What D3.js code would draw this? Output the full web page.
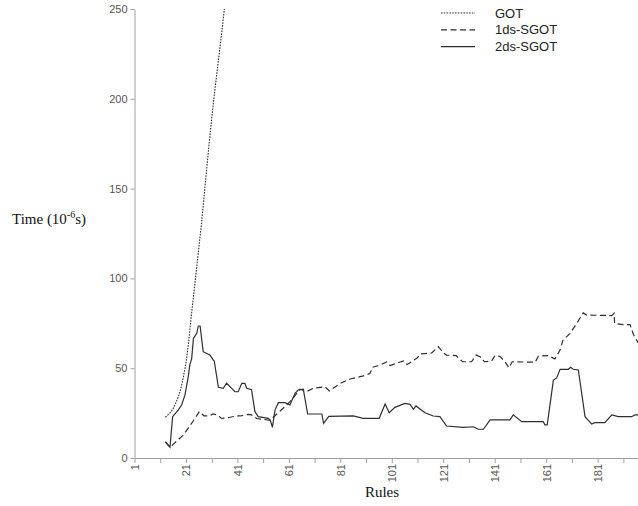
<!DOCTYPE html>
<html>
<head>
<meta charset="utf-8">
<script src="https://cdn.jsdelivr.net/npm/d3@7"></script>
<style>
  body { margin: 0; background: #fff; }
  svg { display: block; }
</style>
</head>
<body>
<script>
const width = 638;
const height = 506;

// Series data (rule number, time in 10^-6 s)
const gotRules = [13, 14, 15, 16, 17, 18, 19, 20, 21, 22, 23, 24, 25, 26, 27, 28, 29, 30, 31, 32, 33, 34, 35, 36];
const gotTimes = [22.7, 24, 25.5, 27.5, 30.5, 34, 38.5, 45, 53, 64, 78, 91, 104, 117, 130, 145, 160, 175, 189, 202, 214, 226, 238, 251];

const oneRules = [13, 14.8, 20, 24, 26.2, 28, 30, 31.5, 33, 34.9, 38.1, 40.7, 42, 45.2, 46.5, 48.5, 53.7, 56.3, 59.5, 61.4, 63, 65.3, 67.9, 70.5, 75, 76.7, 80.9, 84.8, 89.9, 92.5, 93.5, 96.4, 99, 100.3, 105.5, 107, 110.7, 112.3, 116.5, 119.1, 121, 122.3, 126, 128.5, 132, 133.8, 135.3, 137, 139.8, 141.1, 143, 145, 146.5, 147.8, 156.7, 158, 161.8, 164.4, 166.4, 167.5, 170.3, 172.9, 175.4, 176.7, 186.5, 187.4, 187.6, 191, 193.6, 194.9, 196.8];
const oneTimes = [9, 6, 12.8, 21, 25.8, 23.5, 23.4, 24.5, 24, 22, 22.7, 23.4, 23.4, 24.3, 24, 22, 21, 24.5, 28.6, 31.4, 34, 38.3, 37, 38.8, 39.7, 37.3, 41.5, 44, 45.7, 47, 50.5, 51.8, 53.5, 51.5, 54, 52, 55.5, 58, 58.5, 62, 58.5, 57.3, 57, 53.6, 53.6, 57.3, 56.4, 53.6, 54, 57, 56.6, 53.6, 50.2, 53.6, 53.3, 56.8, 57, 55.2, 60.1, 65.5, 69.4, 75, 80.8, 79.6, 79.3, 80.6, 74.8, 74.3, 74.3, 68.8, 64];

const twoRules = [13, 14.8, 15.8, 18, 19.3, 20.6, 21.9, 22.5, 23.2, 23.9, 25.2, 25.8, 26.5, 27.7, 30.3, 31.6, 32, 33.6, 35.5, 36.8, 38.8, 40, 41.3, 42.7, 43.9, 44.6, 46.5, 47.8, 49.1, 53, 53.7, 54.6, 55.6, 56.9, 59.5, 61.4, 63.4, 64.7, 66.6, 68.3, 73.8, 74.5, 76.5, 86, 89.9, 96.1, 98.4, 100, 102.2, 106.1, 108.1, 109.4, 110.4, 113.9, 117.1, 119.7, 122.3, 128.8, 132.7, 134.6, 136.6, 139.2, 146.9, 148.2, 151.5, 159.9, 160.5, 161.4, 162.2, 163.8, 165.1, 166.4, 169.6, 170.5, 171.5, 173.5, 176.1, 178.7, 179.9, 183.8, 186.5, 189, 194.2, 195.5, 196.8];
const twoTimes = [9, 6, 23, 26.7, 29.5, 35, 45.3, 52, 55, 66.6, 69.4, 73.5, 73.5, 59.2, 57.3, 54.6, 54, 39.4, 38.8, 41.6, 38.8, 36.9, 36.9, 41.6, 41.6, 38.8, 38, 25.8, 23, 22.1, 21.2, 17.1, 26.7, 30.8, 30.8, 29.5, 36, 37.9, 38.3, 24.5, 24.5, 19.3, 23.2, 23.4, 22.1, 22.1, 30.1, 25.2, 28.2, 30.4, 29.9, 27.1, 29, 25.2, 23.4, 23, 17.8, 17.1, 17.4, 16, 16, 21.2, 21.2, 24, 20.2, 20.2, 18.4, 18.4, 26.7, 43.4, 44.6, 49.4, 49.4, 50.5, 49.4, 49, 23, 18.9, 19.7, 19.7, 24, 23, 23, 24, 24];

const seriesNames = ["GOT", "1ds-SGOT", "2ds-SGOT"];
const yTicks = [0, 50, 100, 150, 200, 250];
const xTicks = d3.range(1, 192, 10);

const svg = d3.select("body").append("svg")
    .attr("width", width)
    .attr("height", height);

const x = d3.scaleLinear().domain([1, 197]).range([134.5, 638.8]);
const y = d3.scaleLinear().domain([0, 250]).range([458, 9]);

svg.append("defs").append("clipPath")
    .attr("id", "plot-clip")
    .append("rect")
    .attr("x", 134).attr("y", 9)
    .attr("width", 510).attr("height", 449);

// Axes
const yAxis = svg.append("g")
    .attr("transform", "translate(134.5,0)")
    .call(d3.axisLeft(y).tickValues(yTicks).tickSize(4).tickSizeOuter(0).tickPadding(3));

const xAxis = svg.append("g")
    .attr("transform", "translate(0,458)")
    .call(d3.axisBottom(x).tickValues(xTicks).tickSize(5).tickSizeOuter(0)
        .tickFormat(d => (d - 1) % 20 === 0 ? d : ""));

xAxis.selectAll("text")
    .attr("transform", "rotate(-90)")
    .attr("text-anchor", "end")
    .attr("x", -6)
    .attr("y", 0)
    .attr("dy", "0.35em");

[yAxis, xAxis].forEach(ax => {
    ax.select(".domain").attr("stroke", "#a0a0a0");
    ax.selectAll(".tick line").attr("stroke", "#a0a0a0");
    ax.selectAll("text")
        .attr("fill", "#5a5550")
        .style("font-family", "'Liberation Sans', Arial, sans-serif")
        .style("font-size", "11px");
});

// Lines
const series = [
    { name: seriesNames[0], rules: gotRules, times: gotTimes, dash: "1.6,1.2", width: 1.1 },
    { name: seriesNames[1], rules: oneRules, times: oneTimes, dash: "6,3.5", width: 1.2 },
    { name: seriesNames[2], rules: twoRules, times: twoTimes, dash: null, width: 1.2 }
];

const line = d3.line()
    .x(d => x(d[0]))
    .y(d => y(d[1]));

svg.append("g")
    .attr("clip-path", "url(#plot-clip)")
    .selectAll("path")
    .data(series)
    .enter().append("path")
    .attr("d", s => line(s.rules.map((r, i) => [r, s.times[i]])))
    .attr("fill", "none")
    .attr("stroke", "#2e2e2e")
    .attr("stroke-width", s => s.width)
    .attr("stroke-dasharray", s => s.dash);

// Legend
const legend = svg.append("g")
    .selectAll("g")
    .data(series)
    .enter().append("g")
    .attr("transform", (d, i) => `translate(0,${13 + i * 16.8})`);

legend.append("line")
    .attr("x1", 441).attr("x2", 475)
    .attr("stroke", "#2e2e2e")
    .attr("stroke-width", s => s.width)
    .attr("stroke-dasharray", s => s.dash);

legend.append("text")
    .attr("x", 495)
    .attr("dy", "0.35em")
    .style("font-family", "'Liberation Sans', Arial, sans-serif")
    .style("font-size", "13px")
    .attr("fill", "#222")
    .text(d => d.name);

// Axis titles
svg.append("text")
    .attr("x", 382)
    .attr("y", 497)
    .attr("text-anchor", "middle")
    .style("font-family", "'Liberation Serif', 'Times New Roman', serif")
    .style("font-size", "15px")
    .attr("fill", "#111")
    .text("Rules");

const yTitle = svg.append("text")
    .attr("x", 12)
    .attr("y", 224)
    .style("font-family", "'Liberation Serif', 'Times New Roman', serif")
    .style("font-size", "15px")
    .attr("fill", "#111");
yTitle.append("tspan").text("Time (10");
yTitle.append("tspan").attr("dy", -6).style("font-size", "10px").text("-6");
yTitle.append("tspan").attr("dy", 6).text("s)");
</script>
</body>
</html>
